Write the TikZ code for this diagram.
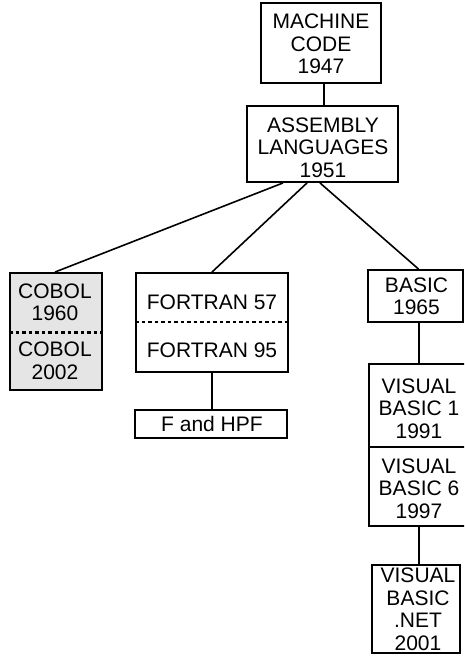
\documentclass[tikz,border=0pt]{standalone}
\usepackage{fontspec}
\setmainfont{Liberation Sans}
\begin{document}
\begin{tikzpicture}[x=1pt,y=-1pt,
  box/.style={draw, line width=1.9pt, inner sep=0pt},
  txt/.style={align=center, inner sep=0pt, font=\fontsize{21}{22.5}\selectfont},
  conn/.style={line width=1.6pt},
  sepdot/.style={line width=2.6pt, dash pattern=on 3.5pt off 3pt},
  sepline/.style={line width=1.9pt}]
\useasboundingbox (0,0) rectangle (464,656);
\clip (0,0) rectangle (464,656);

% boxes
\node[box, minimum width=120pt, minimum height=80pt] (mc) at (321,43) {};
\node[box, minimum width=151pt, minimum height=76pt] (asm) at (322.5,144) {};
\node[box, fill=black!10, minimum width=92pt, minimum height=117pt] (cobol) at (56,331.5) {};
\node[box, minimum width=152pt, minimum height=99pt] (fortran) at (212,322.5) {};
\node[box, minimum width=152pt, minimum height=28pt] (fhpf) at (211,424) {};
\node[box, minimum width=95pt, minimum height=52pt] (basic) at (415.5,296) {};
\node[box, minimum width=108pt, minimum height=162pt] (vb) at (423,445) {};
\node[box, minimum width=88pt, minimum height=88pt] (vbnet) at (416,609) {};

% texts
\node[txt] (mct) at (321,44) {MACHINE\\CODE\\1947};
\node[txt] (asmt) at (323,147.5) {ASSEMBLY\\LANGUAGES\\1951};
\node[txt] (cobt1) at (55,302.5) {COBOL\\1960};
\node[txt] (cobt2) at (55,361) {COBOL\\2002};
\node[txt] (fort1) at (212,302) {FORTRAN 57};
\node[txt] (fort2) at (212,350) {FORTRAN 95};
\node[txt] (fhpft) at (212,424) {F and HPF};
\node[txt] (basict) at (416.5,296.5) {BASIC\\1965};
\node[txt] (vbt1) at (419,408.5) {VISUAL\\BASIC 1\\1991};
\node[txt] (vbt2) at (419,488.5) {VISUAL\\BASIC 6\\1997};
\node[txt] (vbnett) at (418,609.5) {VISUAL\\BASIC\\.NET\\2001};

% separators
\draw[sepdot] ([yshift=-1pt]cobol.west) -- ([yshift=-1pt]cobol.east);
\draw[sepdot] ([yshift=0.5pt]fortran.west) -- ([yshift=0.5pt]fortran.east);
\draw[sepline] ([yshift=-2pt]vb.west) -- ([yshift=-2pt]vb.east);

% connectors
\draw[conn] ([xshift=3pt]mc.south) -- ([xshift=1.5pt]asm.north);
\draw[conn] ([xshift=-39.5pt]asm.south) -- ([xshift=-1pt]cobol.north);
\draw[conn] ([xshift=-15.5pt]asm.south) -- (fortran.north);
\draw[conn] ([xshift=-2.5pt]asm.south) -- ([xshift=3pt]basic.north);
\draw[conn] (fortran.south) -- ([xshift=1pt]fhpf.north);
\draw[conn] ([xshift=3.5pt]basic.south) -- ([xshift=-4pt]vb.north);
\draw[conn] ([xshift=-4pt]vb.south) -- ([xshift=3pt]vbnet.north);
\end{tikzpicture}
\end{document}
